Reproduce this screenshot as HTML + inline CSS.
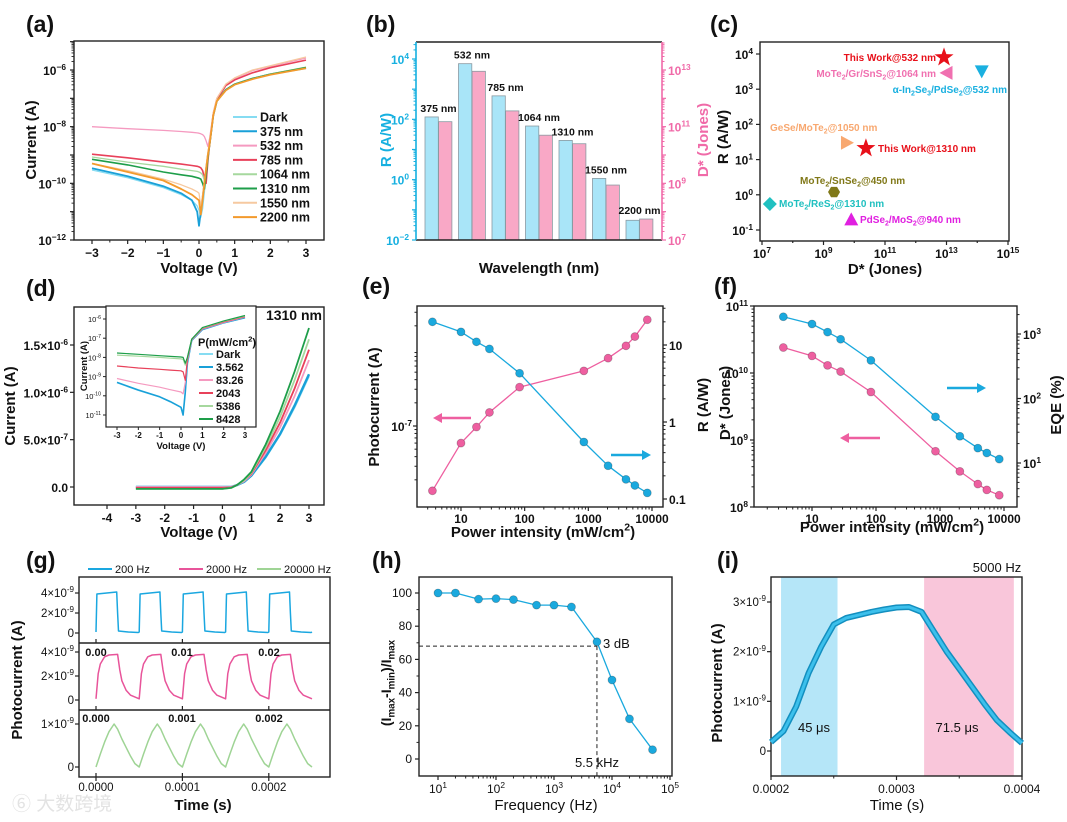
<!DOCTYPE html>
<html><head><meta charset="utf-8">
<style>
body{margin:0;background:#fff}
svg{display:block;font-family:"Liberation Sans",Arial,"Noto Sans CJK SC",sans-serif}
</style></head>
<body>
<svg id="fig" width="1067" height="822" viewBox="0 0 1067 822"></svg>
<script>
// ---------- data (a) ----------
const aVolt=[-3,-2,-1,-0.5,-0.2,-0.05,0,0.05,0.1,0.15,0.2,0.25,0.3,0.4,0.5,0.75,1,1.5,2,3];
const aDark=[-9.53,-9.8,-10.15,-10.4,-10.6,-10.8,-10.95,-11.2,-10.9,-10.3,-9.6,-9.1,-8.6,-7.6,-7.1,-6.7,-6.5,-6.3,-6.15,-5.95];
const a375=[-9.47,-9.75,-10.1,-10.35,-10.6,-11.0,-11.5,-11.0,-10.5,-10.0,-9.5,-9.0,-8.6,-7.6,-7.1,-6.7,-6.5,-6.3,-6.15,-5.93];
const a532=[-8.0,-8.07,-8.13,-8.17,-8.2,-8.22,-8.23,-8.25,-8.28,-8.35,-8.5,-8.7,-8.4,-7.5,-7.0,-6.5,-6.3,-6.02,-5.87,-5.58];
const a785=[-8.97,-9.1,-9.25,-9.32,-9.37,-9.4,-9.42,-9.45,-9.55,-9.8,-10.0,-9.2,-8.6,-7.55,-7.05,-6.55,-6.35,-6.1,-5.92,-5.65];
const a1064=[-9.07,-9.25,-9.4,-9.5,-9.55,-9.58,-9.6,-9.63,-9.7,-9.9,-9.7,-9.1,-8.6,-7.6,-7.1,-6.7,-6.5,-6.3,-6.14,-5.9];
const a1310=[-9.15,-9.35,-9.6,-9.7,-9.75,-9.8,-9.82,-9.85,-10.0,-10.2,-9.7,-9.1,-8.6,-7.6,-7.1,-6.7,-6.5,-6.3,-6.15,-5.91];
const a1550=[-9.3,-9.55,-9.85,-10.05,-10.2,-10.3,-10.35,-10.8,-10.4,-9.9,-9.4,-8.9,-8.5,-7.5,-7.0,-6.5,-6.28,-6.0,-5.85,-5.54];
const a2200=[-9.3,-9.6,-9.9,-10.2,-10.4,-10.55,-10.6,-11.1,-10.6,-10.0,-9.5,-9.0,-8.6,-7.6,-7.1,-6.72,-6.52,-6.32,-6.17,-5.94];
const aNames=['Dark','375 nm','532 nm','785 nm','1064 nm','1310 nm','1550 nm','2200 nm'];
// ---------- data (b) ----------
const bLabels=['375 nm','532 nm','785 nm','1064 nm','1310 nm','1550 nm','2200 nm'];
const bR=[120,7000,600,60,20,1.1,0.045];
const bD=[1.5e11,9e12,3.6e11,5e10,2.5e10,8.7e8,5.5e7];
// ---------- data (c) ----------
const cNames=['This Work@532 nm','MoTe_{2}/Gr/SnS_{2}@1064 nm','α-In_{2}Se_{3}/PdSe_{2}@532 nm','GeSe/MoTe_{2}@1050 nm','This Work@1310 nm','MoTe_{2}/SnSe_{2}@450 nm','MoTe_{2}/ReS_{2}@1310 nm','PdSe_{2}/MoS_{2}@940 nm'];
const cD=[8.3e12,1e13,1.4e14,5.8e9,2.4e10,2.2e9,1.8e7,8e9];
const cR=[8000,2900,3200,30,21,1.2,0.55,0.2];
// ---------- data (d) ----------
const dVolt=[-3,0,0.3,0.5,0.75,1,1.5,2,2.5,3];
const dDark=[0,0,0,0.02,0.05,0.115,0.31,0.55,0.84,1.17];
const d3562=[0,0,0,0.02,0.055,0.12,0.32,0.56,0.86,1.19];
const d8326=[0,0,0,0.02,0.06,0.13,0.36,0.63,0.96,1.34];
const d2043=[-0.01,-0.01,-0.005,0.02,0.07,0.14,0.39,0.68,1.04,1.45];
const d5386=[-0.02,-0.02,-0.01,0.02,0.07,0.15,0.42,0.74,1.13,1.56];
const d8428=[-0.02,-0.02,-0.01,0.02,0.08,0.16,0.45,0.8,1.22,1.68];
const dNames=['Dark','3.562','83.26','2043','5386','8428'];
const iVolt=[-3,-2,-1,-0.5,0,0.1,0.2,0.3,0.5,1,2,3];
const iDark=[-9.32,-9.72,-10.07,-10.32,-10.6,-10.9,-9.8,-8.3,-7.12,-6.56,-6.21,-5.94];
const i3562=[-9.3,-9.7,-10.05,-10.3,-10.6,-11.0,-9.8,-8.3,-7.12,-6.55,-6.2,-5.93];
const i8326=[-9.1,-9.35,-9.55,-9.68,-9.8,-9.9,-9.3,-8.2,-7.1,-6.52,-6.18,-5.9];
const i2043=[-8.45,-8.55,-8.62,-8.66,-8.7,-8.75,-9.2,-8.1,-7.07,-6.5,-6.15,-5.88];
const i5386=[-7.88,-7.94,-8.0,-8.04,-8.08,-8.1,-8.4,-8.0,-7.05,-6.47,-6.12,-5.85];
const i8428=[-7.77,-7.84,-7.91,-7.95,-7.98,-8.0,-8.3,-8.0,-7.05,-6.45,-6.1,-5.82];
// ---------- data (e),(f) ----------
const ePower=[3.562,10,17.5,28,83.26,850,2043,3900,5386,8428];
const eIph=[1.44e-8,6e-8,9.7e-8,1.5e-7,3.2e-7,5.2e-7,7.6e-7,1.1e-6,1.45e-6,2.4e-6];
const eR=[20,14.8,11,8.9,4.3,0.55,0.27,0.18,0.15,0.12];
const fD=[2.4e10,1.8e10,1.3e10,1.05e10,5.2e9,6.8e8,3.4e8,2.2e8,1.8e8,1.5e8];
const fEQE=[1850,1430,1070,830,390,52,26,17,14.3,11.5];
// ---------- data (g) ----------
const gFreqNames=['200 Hz','2000 Hz','20000 Hz'];
const gBluePhase=[0,0.02,0.25,0.48,0.5,0.52,0.75,0.98,1];
const gBlueVal=[0.1,3.9,4.0,4.1,2.0,0.2,0.1,0.05,0.1];
const gPinkPhase=[0,0.05,0.1,0.2,0.3,0.5,0.55,0.6,0.7,0.8,1];
const gPinkVal=[0.1,2.2,3.0,3.6,3.75,3.8,2.5,1.6,0.8,0.4,0.1];
const gGreenPhase=[0,0.1,0.2,0.3,0.42,0.5,0.6,0.7,0.8,0.9,1];
const gGreenVal=[0,0.3,0.58,0.82,1.0,0.88,0.65,0.45,0.25,0.08,0];
const gCycles=5;
// ---------- data (h) ----------
const hFreq=[10,20,50,100,200,500,1000,2000,5500,10000,20000,50000];
const hVal=[100,100,96.3,96.6,96,92.7,92.7,91.6,70.6,47.6,24.2,5.6];
const hCut=5500, hLevel=68;
// ---------- data (i) ----------
const iTime=[0.2,0.21,0.22,0.23,0.24,0.25,0.26,0.27,0.28,0.29,0.30,0.31,0.32,0.33,0.34,0.35,0.36,0.37,0.38,0.39,0.40];
const iVal=[0.18,0.4,0.89,1.57,2.1,2.55,2.68,2.74,2.8,2.85,2.89,2.9,2.8,2.4,2.0,1.65,1.3,0.95,0.62,0.38,0.16];
const iRise=[0.208,0.253], iFall=[0.322,0.3935];

// ---------- helpers ----------
const NS='http://www.w3.org/2000/svg';const svg=document.getElementById('fig');
function el(tag,attrs,parent,name){const e=document.createElementNS(NS,tag);for(const k in attrs)e.setAttribute(k,attrs[k]);


(parent||svg).appendChild(e);return e;}
function grp(name){return el('g',{},svg,name);}
function T(p,x,y,s,o,name){o=o||{};const fs=o.fs||12;
const t=el('text',{x:x,y:y,'font-size':fs,'font-weight':o.fw||'bold','text-anchor':o.a||'middle',fill:o.c||'#111'},p,name);
if(o.rot)t.setAttribute('transform','rotate('+o.rot+' '+x+' '+y+')');
const parts=s.split(/(\^\{[^}]*\}|_\{[^}]*\})/);let shift=0;
for(const q of parts){if(!q)continue;const ts=document.createElementNS(NS,'tspan');let d=0,txt=q,sz=fs;
if(/^[\^_]\{/.test(q)){txt=q.slice(2,-1);sz=fs*0.7;d=q[0]=='^'?-fs*0.42:fs*0.25;}
ts.setAttribute('dy',d-shift);shift=d;ts.setAttribute('font-size',sz);ts.textContent=txt;t.appendChild(ts);}
return t;}
function L(p,x1,y1,x2,y2,c,w,name,dash){const e=el('line',{x1:x1,y1:y1,x2:x2,y2:y2,stroke:c||'#222','stroke-width':w||1.2},p,name);if(dash)e.setAttribute('stroke-dasharray',dash);return e;}
function P(p,pts,c,w,name){return el('path',{d:'M'+pts.map(q=>q[0].toFixed(1)+','+q[1].toFixed(1)).join('L'),fill:'none',stroke:c,'stroke-width':w,'stroke-linejoin':'round'},p,name);}
function frame(p,x0,y0,x1,y1){el('rect',{x:x0,y:y0,width:x1-x0,height:y1-y0,fill:'none',stroke:'#222','stroke-width':1.4},p,'plot-frame');}
function lin(d0,d1,p0,p1){return v=>p0+(v-d0)*(p1-p0)/(d1-d0);}
function lg(d0,d1,p0,p1){const f=lin(Math.log10(d0),Math.log10(d1),p0,p1);return v=>f(Math.log10(v));}
function logMinorY(p,f,d0,d1,x,dir,lo,hi,c){for(let d=d0;d<d1;d++)for(let m=2;m<10;m++){const y=f(m*Math.pow(10,d));if(y>=lo&&y<=hi)L(p,x,y,x+dir*2.5,y,c,1,'minor-tick');}}
function logMinorX(p,f,d0,d1,y,dir,lo,hi){for(let d=d0;d<d1;d++)for(let m=2;m<10;m++){const x=f(m*Math.pow(10,d));if(x>=lo&&x<=hi)L(p,x,y,x,y+dir*2.5,'#222',1,'minor-tick');}}
function circ(p,x,y,r,c,name){el('circle',{cx:x,cy:y,r:r,fill:c,stroke:'rgba(0,0,0,0.25)','stroke-width':0.8},p,name);}
function plabel(x,y,s){const t=T(svg,x,y,s,{fs:23,a:'start'},'panel-label');}

// ================= (a) =================
(function(){const g=grp('panel-a-iv-log');plabel(26,32,'(a)');
const x=lin(-3,3,92,306),y=lin(-6,-12,70,240);
frame(g,74,41,324,240);
for(let v=-3;v<=3;v++){L(g,x(v),240,x(v),244,'#222',1.2,'x-tick');T(g,x(v),257,v<0?'−'+(-v):String(v),{fs:12},'x-tick-label');if(v<3)L(g,x(v+0.5),240,x(v+0.5),242.5,'#222',1,'minor-tick');}
for(let d=-12;d<=-5;d++){const yy=y(d);if(yy<41)continue;L(g,74,yy,70,yy,'#222',1.2,'y-tick');if(d%2==0)T(g,66,yy+5,'10^{'+(d<0?'−'+(-d):d)+'}',{fs:12,a:'end'},'y-tick-label');
for(let m=2;m<10;m++){const ym=y(d+Math.log10(m));if(ym>41)L(g,74,ym,71.5,ym,'#222',0.9,'minor-tick');}}
T(g,36,140,'Current (A)',{fs:15,rot:-90},'y-axis-title');
T(g,199,273,'Voltage (V)',{fs:15},'x-axis-title');
const series=[aDark,a375,a532,a785,a1064,a1310,a1550,a2200];
const cols=['#86dcf2','#19a0d8','#f59ac0','#e8415a','#a6d89e','#1e9e4a','#f6c9a0','#f39a2c'];
const ws=[1.3,1.8,1.3,1.6,1.3,1.6,1.3,1.8];
series.forEach((s,k)=>{P(g,aVolt.map((v,i)=>[x(v),y(s[i])]),cols[k],ws[k],'iv-curve-'+aNames[k].replace(' ',''));});
aNames.forEach((n,k)=>{const yy=117+k*14.3;L(g,233,yy,257,yy,cols[k],2,'legend-line');T(g,260,yy+4.5,n,{fs:12.5,a:'start'},'legend-entry');});
})();

// ================= (b) =================
(function(){const g=grp('panel-b-bar-chart');plabel(366,32,'(b)');
const yl=lg(1e-2,1e4,240,59),yr=lg(1e7,1e13,240,70);
const blue='#16b0e0',pink='#f06aa8';
for(let i=0;i<bR.length;i++){const x0=425+i*33.5;
const t1=yl(bR[i]),t2=yr(bD[i]);
el('rect',{x:x0,y:t1,width:13.3,height:240-t1,fill:'#a9e5f8',stroke:'#8a9aa2','stroke-width':0.8},g,'bar-responsivity');
el('rect',{x:x0+13.6,y:t2,width:13.3,height:240-t2,fill:'#f9a8c6',stroke:'#8a9aa2','stroke-width':0.8},g,'bar-detectivity');
T(g,x0+13.5,Math.min(t1,t2)-5,bLabels[i],{fs:10.5},'bar-label');}
L(g,416,42,662,42,'#222',1.4,'top-axis');L(g,416,240,662,240,'#222',1.6,'bottom-axis');
L(g,416,42,416,240,blue,1.6,'left-axis');L(g,662,42,662,240,pink,1.6,'right-axis');
for(let d=-2;d<=4;d++){const yy=yl(Math.pow(10,d));L(g,416,yy,412,yy,blue,1.2,'y-tick');if(d%2==0)T(g,409,yy+5,'10^{'+(d<0?'−'+(-d):d)+'}',{fs:12,a:'end',c:blue},'y-tick-label');}
logMinorY(g,yl,-2,5,416,-1,42,240,blue);
for(let d=7;d<=13;d++){const yy=yr(Math.pow(10,d));L(g,662,yy,666,yy,pink,1.2,'y2-tick');if(d%2==1)T(g,668,yy+5,'10^{'+d+'}',{fs:12,a:'start',c:pink},'y2-tick-label');}
logMinorY(g,yr,7,14,662,1,42,240,pink);
T(g,391,140,'R (A/W)',{fs:15,rot:-90,c:blue},'y-axis-title');
T(g,708,140,'D* (Jones)',{fs:15,rot:-90,c:pink},'y2-axis-title');
T(g,539,273,'Wavelength (nm)',{fs:15},'x-axis-title');
})();

// ================= (c) =================
(function(){const g=grp('panel-c-benchmark');plabel(710,32,'(c)');
const x=lg(1e7,1e15,762,1008),y=lg(1e-1,1e4,230,54);
frame(g,760,42,1009,241);
for(let d=7;d<=15;d++){const xx=x(Math.pow(10,d));if(xx>1009)continue;L(g,xx,241,xx,d%2?245:243,'#222',1.2,'x-tick');if(d%2==1)T(g,xx,258,'10^{'+d+'}',{fs:12},'x-tick-label');}
T(g,1006,258,'',{fs:12},'x-tick-label');
for(let d=-1;d<=4;d++){const yy=y(Math.pow(10,d));L(g,760,yy,756,yy,'#222',1.2,'y-tick');T(g,753,yy+5,'10^{'+(d<0?'-'+(-d):d)+'}',{fs:12,a:'end'},'y-tick-label');}
T(g,728,137,'R (A/W)',{fs:15,rot:-90},'y-axis-title');
T(g,885,274,'D* (Jones)',{fs:15},'x-axis-title');
const cols=['#e8101a','#f070b0','#1ab0e0','#f8a870','#e8101a','#807818','#20c0c0','#e020e0'];
const shapes=['star','tl','td','tr','star','hex','dia','tu'];
function mark(k){const cx=x(cD[k]),cy=y(cR[k]);let pts=[];const s=shapes[k];
if(s=='star'){for(let i=0;i<10;i++){const r=i%2?4:10,a=-Math.PI/2+i*Math.PI/5;pts.push([cx+r*Math.cos(a),cy+r*Math.sin(a)]);}}
else if(s=='tl')pts=[[cx-7,cy],[cx+6,cy-7],[cx+6,cy+7]];
else if(s=='tr')pts=[[cx+7,cy],[cx-6,cy-7],[cx-6,cy+7]];
else if(s=='td')pts=[[cx,cy+7],[cx-7,cy-6],[cx+7,cy-6]];
else if(s=='tu')pts=[[cx,cy-7],[cx-7,cy+6],[cx+7,cy+6]];
else if(s=='dia')pts=[[cx,cy-7],[cx+7,cy],[cx,cy+7],[cx-7,cy]];
else for(let i=0;i<6;i++){const a=i*Math.PI/3;pts.push([cx+6*Math.cos(a),cy+6*Math.sin(a)]);}
el('polygon',{points:pts.map(q=>q.join(',')).join(' '),fill:cols[k]},g,'marker-'+s);}
for(let k=0;k<cD.length;k++)mark(k);
const lab=[[936,61,'end'],[936,77,'end'],[1007,93,'end'],[770,131,'start'],[878,152,'start'],[800,184,'start'],[779,207,'start'],[860,223,'start']];
cNames.forEach((n,k)=>T(g,lab[k][0],lab[k][1],n,{fs:10,a:lab[k][2],c:cols[k]},'point-label'));
})();

// ================= (d) =================
(function(){const g=grp('panel-d-iv-linear');plabel(26,296,'(d)');
const x=lin(-4,3,107,309),y=lin(0,1.5,487,345);
frame(g,74,307,324,505);
for(let v=-4;v<=3;v++){L(g,x(v),505,x(v),509,'#222',1.2,'x-tick');T(g,x(v),522,String(v),{fs:12},'x-tick-label');}
[0,0.5,1.0,1.5].forEach((v,i)=>{const yy=y(v);L(g,74,yy,70,yy,'#222',1.2,'y-tick');T(g,68,yy+5,['0.0','5.0×10^{-7}','1.0×10^{-6}','1.5×10^{-6}'][i],{fs:12,a:'end'},'y-tick-label');});
T(g,15,406,'Current (A)',{fs:15,rot:-90},'y-axis-title');
T(g,199,537,'Voltage (V)',{fs:15},'x-axis-title');
const cols=['#86dcf2','#19a0d8','#f59ac0','#e8415a','#a6d89e','#1e9e4a'];
[dDark,d3562,d8326,d2043,d5386,d8428].forEach((s,k)=>P(g,dVolt.map((v,i)=>[x(v),y(s[i])]),cols[k],k==1?2.4:1.8,'iv-curve-'+dNames[k]));
T(g,322,320,'1310 nm',{fs:14,a:'end'},'wavelength-label');
// inset
const ig=el('g',{},g,'inset-log-iv');
el('rect',{x:106,y:306,width:150,height:121,fill:'#fff',stroke:'#222','stroke-width':1.2},ig,'inset-frame');
const ix=lin(-3,3,117,245),iy=lin(-6,-11,319,415);
for(let v=-3;v<=3;v++){L(ig,ix(v),427,ix(v),430,'#222',1,'x-tick');T(ig,ix(v),438,String(v),{fs:8},'x-tick-label');}
for(let d=-11;d<=-6;d++){const yy=iy(d);L(ig,106,yy,103,yy,'#222',1,'y-tick');T(ig,101,yy+3,'10^{'+d+'}',{fs:7.5,a:'end',fw:'normal'},'y-tick-label');}
T(ig,87,366,'Current (A)',{fs:9.5,rot:-90},'inset-y-title');
T(ig,181,449,'Voltage (V)',{fs:9.5},'inset-x-title');
[iDark,i3562,i8326,i2043,i5386,i8428].forEach((s,k)=>P(ig,iVolt.map((v,i)=>[ix(v),iy(s[i])]),cols[k],k==1?1.6:1.2,'inset-curve-'+dNames[k]));
T(ig,198,346,'P(mW/cm^{2})',{fs:11,a:'start'},'legend-title');
dNames.forEach((n,k)=>{const yy=354+k*13;L(ig,199,yy,213,yy,cols[k],2,'legend-line');T(ig,216,yy+4,n,{fs:11,a:'start'},'legend-entry');});
})();

// ================= (e) =================
(function(){const g=grp('panel-e-photocurrent-responsivity');plabel(362,294,'(e)');
const x=lg(1,1e4,397.3,652),yL=v=>426-(Math.log10(v)+7)*77,yR=v=>422-Math.log10(v)*77;
frame(g,417,306,663,507);
[10,100,1000,10000].forEach(v=>{L(g,x(v),507,x(v),511,'#222',1.2,'x-tick');T(g,x(v),523,String(v),{fs:12},'x-tick-label');});
logMinorX(g,x,0,4,507,1,417,663);
L(g,417,yL(1e-7),413,yL(1e-7),'#222',1.2,'y-tick');T(g,412,431,'10^{-7}',{fs:12,a:'end'},'y-tick-label');
logMinorY(g,yL,-8,-5,417,-1,306,507,'#222');
[[10,'10'],[1,'1'],[0.1,'0.1']].forEach(q=>{const yy=yR(q[0]);L(g,663,yy,667,yy,'#222',1.2,'y2-tick');T(g,669,yy+5,q[1],{fs:12,a:'start'},'y2-tick-label');});
logMinorY(g,yR,-1,2,663,1,306,507,'#222');
T(g,379,407,'Photocurrent (A)',{fs:15,rot:-90},'y-axis-title');
T(g,708,405,'R (A/W)',{fs:15,rot:-90},'y2-axis-title');
T(g,543,537,'Power intensity (mW/cm^{2})',{fs:15},'x-axis-title');
const pink='#ee5fa0',blue='#1aa9de';
P(g,ePower.map((v,i)=>[x(v),yL(eIph[i])]),pink,1.3,'photocurrent-line');
P(g,ePower.map((v,i)=>[x(v),yR(eR[i])]),blue,1.3,'responsivity-line');
ePower.forEach((v,i)=>{circ(g,x(v),yL(eIph[i]),4,pink,'photocurrent-point');circ(g,x(v),yR(eR[i]),4,blue,'responsivity-point');});
L(g,440,418,471,418,pink,2.5,'left-arrow-line');el('polygon',{points:'433,418 442,413 442,423',fill:pink},g,'left-arrow-head');
L(g,611,455,644,455,blue,2.5,'right-arrow-line');el('polygon',{points:'651,455 642,450 642,460',fill:blue},g,'right-arrow-head');
})();

// ================= (f) =================
(function(){const g=grp('panel-f-detectivity-eqe');plabel(714,294,'(f)');
const x=lg(1,1e4,748,1004),yL=v=>306+(11-Math.log10(v))*67,yR=v=>463-(Math.log10(v)-1)*64.5;
frame(g,754,306,1017,507);
[10,100,1000,10000].forEach(v=>{L(g,x(v),507,x(v),511,'#222',1.2,'x-tick');T(g,x(v),523,String(v),{fs:12},'x-tick-label');});
logMinorX(g,x,0,4,507,1,754,1017);
for(let d=8;d<=11;d++){const yy=yL(Math.pow(10,d));L(g,754,yy,750,yy,'#222',1.2,'y-tick');T(g,748,yy+5,'10^{'+d+'}',{fs:12,a:'end'},'y-tick-label');}
logMinorY(g,yL,8,11,754,-1,306,507,'#222');
for(let d=1;d<=3;d++){const yy=yR(Math.pow(10,d));L(g,1017,yy,1021,yy,'#222',1.2,'y2-tick');T(g,1023,yy+5,'10^{'+d+'}',{fs:12,a:'start'},'y2-tick-label');}
logMinorY(g,yR,0,4,1017,1,306,507,'#222');
T(g,730,403,'D* (Jones)',{fs:15,rot:-90},'y-axis-title');
T(g,1061,405,'EQE (%)',{fs:15,rot:-90},'y2-axis-title');
T(g,892,532,'Power intensity (mW/cm^{2})',{fs:15},'x-axis-title');
const pink='#ee5fa0',blue='#1aa9de';
P(g,ePower.map((v,i)=>[x(v),yL(fD[i])]),pink,1.3,'detectivity-line');
P(g,ePower.map((v,i)=>[x(v),yR(fEQE[i])]),blue,1.3,'eqe-line');
ePower.forEach((v,i)=>{circ(g,x(v),yL(fD[i]),4,pink,'detectivity-point');circ(g,x(v),yR(fEQE[i]),4,blue,'eqe-point');});
L(g,947,388,978,388,blue,2.5,'right-arrow-line');el('polygon',{points:'986,388 977,383 977,393',fill:blue},g,'right-arrow-head');
L(g,848,438,880,438,pink,2.5,'left-arrow-line');el('polygon',{points:'840,438 849,433 849,443',fill:pink},g,'left-arrow-head');
})();

// ================= (g) =================
(function(){const g=grp('panel-g-frequency-response');plabel(26,568,'(g)');
const x=lin(0,0.00025,96,312);const per=(312-96)/gCycles;
frame(g,79,577,330,777);L(g,79,643,330,643,'#222',1.4,'divider');L(g,79,710,330,710,'#222',1.4,'divider');
const subs=[{y0:633,k:10,ph:gBluePhase,v:gBlueVal,c:'#1aa7e0',ticks:[[0,'0'],[2,'2×10^{-9}'],[4,'4×10^{-9}']],top:null},
{y0:700,k:12,ph:gPinkPhase,v:gPinkVal,c:'#e8549a',ticks:[[0,'0'],[2,'2×10^{-9}'],[4,'4×10^{-9}']],top:['0.00','0.01','0.02'],ty:656},
{y0:767,k:43,ph:gGreenPhase,v:gGreenVal,c:'#9fd495',ticks:[[0,'0'],[1,'1×10^{-9}']],top:['0.000','0.001','0.002'],ty:722}];
subs.forEach((s,si)=>{const pts=[];for(let c=0;c<gCycles;c++)s.ph.forEach((p,i)=>pts.push([96+(c+p)*per,s.y0-s.v[i]*s.k]));
P(g,pts,s.c,1.5,'waveform-'+gFreqNames[si].replace(' ',''));
s.ticks.forEach(t=>{const yy=s.y0-t[0]*s.k;L(g,79,yy,75,yy,'#222',1.2,'y-tick');T(g,74,yy+4,t[1],{fs:11.5,a:'end',fw:'normal'},'y-tick-label');});
if(s.top)s.top.forEach((t,i)=>T(g,[96,182,269][i],s.ty,t,{fs:11},'inner-time-label'));
const yb=[643,710,777][si];[0,0.0001,0.0002].forEach(t=>L(g,x(t),yb,x(t),yb-4,'#222',1.2,'x-tick'));});
[['0.0000',0],['0.0001',0.0001],['0.0002',0.0002]].forEach(q=>{L(g,x(q[1]),777,x(q[1]),781,'#222',1.2,'x-tick');T(g,x(q[1]),791,q[0],{fs:11.5,fw:'normal'},'x-tick-label');});
T(g,22,680,'Photocurrent (A)',{fs:15,rot:-90},'y-axis-title');
T(g,203,810,'Time (s)',{fs:15},'x-axis-title');
const lc=['#1aa7e0','#e8549a','#9fd495'],lx=[88,179,257];
gFreqNames.forEach((n,i)=>{L(g,lx[i],569,lx[i]+24,569,lc[i],2,'legend-line');T(g,lx[i]+27,573,n,{fs:11,a:'start',fw:'normal'},'legend-entry');});
T(g,12,810,'⑥ 大数跨境',{fs:19,a:'start',c:'#e3e3e3',fw:'normal'},'watermark');
})();

// ================= (h) =================
(function(){const g=grp('panel-h-bandwidth');plabel(372,568,'(h)');
const x=lg(10,1e5,438,670),y=lin(0,100,759,593);
frame(g,419,577,672,776);
for(let d=1;d<=5;d++){const xx=x(Math.pow(10,d));L(g,xx,776,xx,780,'#222',1.2,'x-tick');T(g,xx,793,'10^{'+d+'}',{fs:12,fw:'normal'},'x-tick-label');}
logMinorX(g,x,1,5,776,1,419,672);
for(let v=0;v<=100;v+=20){const yy=y(v);L(g,419,yy,415,yy,'#222',1.2,'y-tick');T(g,412,yy+4,String(v),{fs:12,a:'end',fw:'normal'},'y-tick-label');if(v<100)L(g,419,y(v+10),416.5,y(v+10),'#222',1,'minor-tick');}
T(g,391,683,'(I_{max}-I_{min})/I_{max}',{fs:14,rot:-90},'y-axis-title');
T(g,546,810,'Frequency (Hz)',{fs:15,fw:'normal'},'x-axis-title');
L(g,419,y(hLevel),x(hCut),y(hLevel),'#222',1,'3db-horizontal-line','4,3');
L(g,x(hCut),y(hLevel),x(hCut),776,'#222',1,'cutoff-vertical-line','4,3');
P(g,hFreq.map((f,i)=>[x(f),y(hVal[i])]),'#1aa9de',1.3,'response-line');
hFreq.forEach((f,i)=>circ(g,x(f),y(hVal[i]),4,'#1aa9de','response-point'));
T(g,603,648,'3 dB',{fs:13,a:'start',fw:'normal'},'3db-label');
T(g,597,767,'5.5 kHz',{fs:13,fw:'normal'},'cutoff-label');
})();

// ================= (i) =================
(function(){const g=grp('panel-i-rise-fall');plabel(717,568,'(i)');
const x=lin(0.2,0.4,771,1022),y=lin(0,3,751,602);
el('rect',{x:x(iRise[0]),y:577,width:x(iRise[1])-x(iRise[0]),height:199,fill:'#b5e6f8'},g,'rise-time-band');
el('rect',{x:x(iFall[0]),y:577,width:x(iFall[1])-x(iFall[0]),height:199,fill:'#f9c6da'},g,'fall-time-band');
frame(g,771,577,1022,776);
[[0.2,'0.0002'],[0.3,'0.0003'],[0.4,'0.0004']].forEach(q=>{L(g,x(q[0]),776,x(q[0]),780,'#222',1.2,'x-tick');T(g,x(q[0]),793,q[1],{fs:12,fw:'normal'},'x-tick-label');});
[0.25,0.35].forEach(v=>L(g,x(v),776,x(v),778.5,'#222',1,'minor-tick'));
[[0,'0'],[1,'1×10^{-9}'],[2,'2×10^{-9}'],[3,'3×10^{-9}']].forEach(q=>{const yy=y(q[0]);L(g,771,yy,767,yy,'#222',1.2,'y-tick');T(g,766,yy+4,q[1],{fs:11.5,a:'end',fw:'normal'},'y-tick-label');});
T(g,722,683,'Photocurrent (A)',{fs:15,rot:-90},'y-axis-title');
T(g,897,810,'Time (s)',{fs:15,fw:'normal'},'x-axis-title');
const pts=iTime.map((t,i)=>[x(t),y(iVal[i])]);
P(g,pts,'#138fbf',6,'pulse-curve-outline');P(g,pts,'#3cc0ec',3,'pulse-curve');
T(g,997,572,'5000 Hz',{fs:13,fw:'normal'},'frequency-label');
T(g,814,732,'45 μs',{fs:13,fw:'normal'},'rise-time-label');
T(g,957,732,'71.5 μs',{fs:13,fw:'normal'},'fall-time-label');
})();
</script>
</body></html>
